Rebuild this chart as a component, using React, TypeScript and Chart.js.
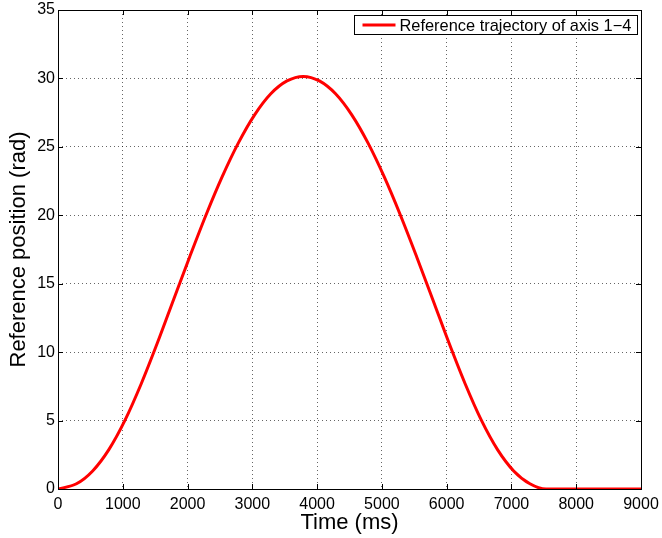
import React, { useEffect, useRef } from "react";
import { Chart, registerables } from "chart.js";

Chart.register(...registerables);

const timeMs = [
  0, 285, 535, 785, 1035, 1285, 1535, 1785, 2035, 2285, 2535, 2785, 3035, 3285, 3535, 3785,
  4035, 4285, 4535, 4785, 5035, 5285, 5535, 5785, 6035, 6285, 6535, 6785, 7035, 7285, 7535,
  7800, 8000, 8500, 9000,
];
const positionRad = [
  0, 0.38, 1.32, 2.88, 5.03, 7.69, 10.68, 13.85, 16.99, 20.02, 22.82, 25.29, 27.34, 28.88, 29.82, 30.15,
  29.82, 28.88, 27.34, 25.29, 22.82, 20.02, 16.99, 13.85, 10.68, 7.69, 5.03, 2.88, 1.32, 0.38, 0.0,
  0, 0, 0, 0,
];
const seriesLabel = "Reference trajectory of axis 1\u22124";
const xTitle = "Time (ms)";
const yTitle = "Reference position (rad)";
const xMin = 0, xMax = 9000, xStep = 1000;
const yMin = 0, yMax = 35, yStep = 5;

const FONT = "'Liberation Sans', Arial, Helvetica, sans-serif";

const framePlugin = {
  id: "frame",
  afterDraw(chart: any) {
    const { ctx, chartArea } = chart;
    const { left, right, top, bottom } = chartArea;
    const xs = chart.scales.x;
    const ys = chart.scales.y;
    ctx.save();
    ctx.strokeStyle = "#000";
    ctx.lineWidth = 1;
    ctx.beginPath();
    const tl = 5;
    xs.ticks.forEach((t: any) => {
      const px = Math.round(xs.getPixelForValue(t.value)) + 0.5;
      ctx.moveTo(px, bottom);
      ctx.lineTo(px, bottom - tl);
      ctx.moveTo(px, top);
      ctx.lineTo(px, top + tl);
    });
    ys.ticks.forEach((t: any) => {
      const py = Math.round(ys.getPixelForValue(t.value)) + 0.5;
      ctx.moveTo(left, py);
      ctx.lineTo(left + tl, py);
      ctx.moveTo(right, py);
      ctx.lineTo(right - tl, py);
    });
    ctx.stroke();
    ctx.strokeRect(Math.round(left) + 0.5, Math.round(top) + 0.5, Math.round(right - left), Math.round(bottom - top));

    // legend
    const ds = chart.data.datasets[0];
    ctx.font = `16.4px ${FONT}`;
    const tw = ctx.measureText(ds.label).width;
    const boxRight = Math.round(right) - 3.5;
    const boxTop = Math.round(top) + 5.5;
    const boxH = 19;
    const boxW = 8 + 33 + 4 + tw + 7;
    const boxLeft = Math.round(boxRight - boxW) + 0.5;
    ctx.fillStyle = "#fff";
    ctx.fillRect(boxLeft, boxTop, boxRight - boxLeft, boxH);
    ctx.strokeStyle = "#000";
    ctx.lineWidth = 1;
    ctx.strokeRect(boxLeft, boxTop, boxRight - boxLeft, boxH);
    const cy = boxTop + boxH / 2;
    ctx.strokeStyle = ds.borderColor;
    ctx.lineWidth = 3;
    ctx.beginPath();
    ctx.moveTo(boxLeft + 8, cy);
    ctx.lineTo(boxLeft + 41, cy);
    ctx.stroke();
    ctx.fillStyle = "#000";
    ctx.textBaseline = "middle";
    ctx.textAlign = "left";
    ctx.fillText(ds.label, boxLeft + 45, cy + 1);
    ctx.restore();
  },
};

export default function App() {
  const ref = useRef<HTMLCanvasElement | null>(null);
  useEffect(() => {
    if (!ref.current) return;
    const data = timeMs.map((t, i) => ({ x: t, y: positionRad[i] }));
    const grid = {
      color: "rgba(0,0,0,0.6)",
      drawTicks: false,
      lineWidth: 1,
      tickLength: 0,
    };
    const border = { display: false, dash: [1, 3] };
    const chart = new Chart(ref.current, {
      type: "line",
      data: {
        datasets: [
          {
            label: seriesLabel,
            data,
            borderColor: "#ff0000",
            borderWidth: 3,
            pointRadius: 0,
            fill: false,
            cubicInterpolationMode: "monotone",
          },
        ],
      },
      plugins: [framePlugin],
      options: {
        animation: false,
        responsive: false,
        maintainAspectRatio: false,
        layout: { padding: { top: 10, right: 21, left: 0, bottom: 0 } },
        plugins: { legend: { display: false }, tooltip: { enabled: false } },
        scales: {
          x: {
            type: "linear",
            min: xMin,
            max: xMax,
            border,
            grid,
            ticks: {
              stepSize: xStep,
              maxRotation: 0,
              padding: 6,
              color: "#000",
              font: { family: FONT, size: 16 },
              callback: (v: any) => String(v),
            },
            title: {
              display: true,
              text: xTitle,
              color: "#000",
              font: { family: FONT, size: 22 },
              padding: { top: 0, bottom: 2 },
            },
            afterFit(scale: any) {
              scale.height = 49;
              scale.paddingLeft = 0;
              scale.paddingRight = 0;
            },
          },
          y: {
            type: "linear",
            min: yMin,
            max: yMax,
            border,
            grid,
            ticks: {
              stepSize: yStep,
              padding: 3,
              color: "#000",
              font: { family: FONT, size: 16 },
              callback: (v: any) => String(v),
            },
            title: {
              display: true,
              text: yTitle,
              color: "#000",
              font: { family: FONT, size: 22 },
              padding: { top: 6, bottom: 0 },
            },
            afterFit(scale: any) {
              scale.width = 58;
              scale.paddingTop = 0;
              scale.paddingBottom = 0;
            },
          },
        },
      },
    } as any);
    return () => chart.destroy();
  }, []);
  return (
    <div style={{ position: "fixed", left: 0, top: 0, width: 662, height: 538, background: "#fff" }}>
      <canvas ref={ref} width={662} height={538} style={{ width: 662, height: 538, display: "block" }} />
    </div>
  );
}
